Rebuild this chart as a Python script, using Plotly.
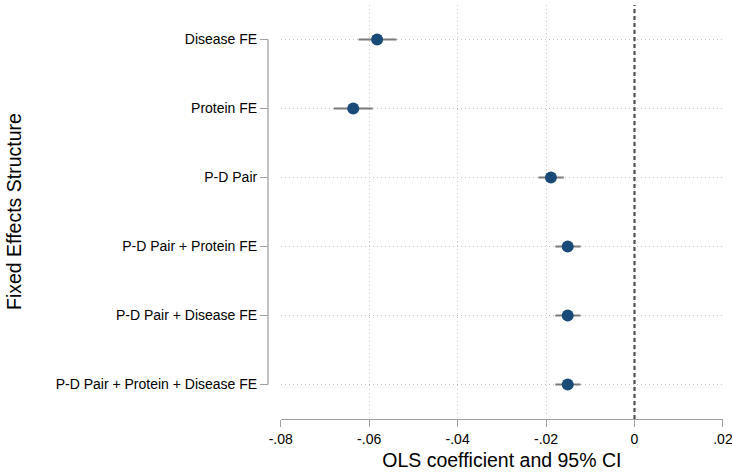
import plotly.graph_objects as go

labels = ["Disease FE", "Protein FE", "P-D Pair", "P-D Pair + Protein FE",
          "P-D Pair + Disease FE", "P-D Pair + Protein + Disease FE"]
coef = [-0.0582, -0.0636, -0.0189, -0.0151, -0.0151, -0.0151]
ci_low = [-0.0624, -0.0680, -0.0217, -0.0179, -0.0179, -0.0179]
ci_high = [-0.0538, -0.0592, -0.0160, -0.0122, -0.0122, -0.0122]
xtick_vals = [-0.08, -0.06, -0.04, -0.02, 0, 0.02]
xtick_text = ["-.08", "-.06", "-.04", "-.02", "0", ".02"]

pos = list(range(1, len(labels) + 1))

W, H = 732, 474
ml, mr, mt, mb = 268, 9, 5, 55
pw = W - ml - mr
dom0 = 12.7 / pw

fig = go.Figure()
fig.add_trace(go.Scatter(
    x=coef, y=pos, mode="markers",
    marker=dict(color="#1a4a78", size=12),
    error_x=dict(type="data", symmetric=False,
                 array=[h - c for h, c in zip(ci_high, coef)],
                 arrayminus=[c - l for c, l in zip(coef, ci_low)],
                 color="#7a7a7a", thickness=2, width=0),
    showlegend=False, hoverinfo="skip"))

# reference line at zero
fig.add_shape(type="line", xref="x", yref="paper", x0=0, x1=0, y0=0, y1=1,
              line=dict(color="#505050", width=2.2, dash="4px,3px"))
# stata-style y axis line spanning categories
fig.add_shape(type="line", xref="paper", yref="y", x0=0, x1=0,
              y0=pos[0], y1=pos[-1], line=dict(color="#a0a0a0", width=1.3))

fig.update_layout(
    width=W, height=H, margin=dict(l=ml, r=mr, t=mt, b=mb),
    paper_bgcolor="white", plot_bgcolor="white",
    font=dict(family="Liberation Sans, Arial, sans-serif", color="black", size=14),
    xaxis=dict(domain=[dom0, 1], range=[-0.08, 0.02001], tickvals=xtick_vals,
               ticktext=xtick_text, showgrid=True, gridcolor="#c8c8c8",
               griddash="1px,3px", gridwidth=1, zeroline=False,
               showline=True, linecolor="#a0a0a0", linewidth=1.3,
               ticks="outside", ticklen=7, tickcolor="#a0a0a0",
               tickfont=dict(size=14), ticklabeloverflow="allow",
               automargin=False,
               title=dict(text="OLS coefficient and 95% CI", font=dict(size=19.5),
                          standoff=7)),
    yaxis=dict(range=[6.5, 0.5], tickvals=pos, ticktext=labels,
               anchor="free", position=0, showgrid=True, gridcolor="#c8c8c8",
               griddash="1px,3px", gridwidth=1, zeroline=False, showline=False,
               ticks="outside", ticklen=8, tickcolor="#a0a0a0",
               automargin=False, tickfont=dict(size=14)),
    annotations=[dict(text="Fixed Effects Structure", xref="paper", yref="paper",
                      x=(14 - ml) / pw, y=0.5, textangle=-90, showarrow=False,
                      xanchor="center", yanchor="middle", font=dict(size=19.5))],
)

fig.write_html("out.html")
